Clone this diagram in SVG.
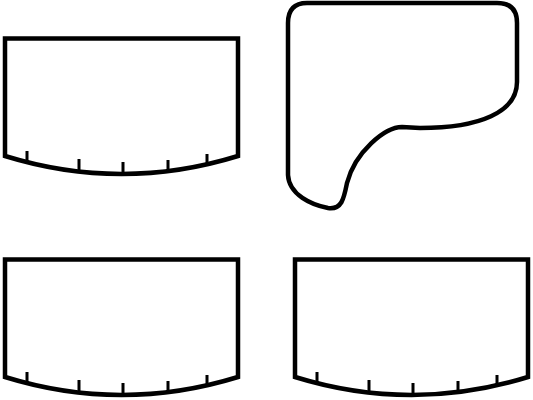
<svg xmlns="http://www.w3.org/2000/svg" xmlns:xlink="http://www.w3.org/1999/xlink" width="533" height="400" viewBox="0 0 533 400">
<style>
.s{fill:#fff;stroke:#000;stroke-width:4.5;stroke-linejoin:miter}
.c{fill:#fff;stroke:#000;stroke-width:4.5;stroke-linejoin:round}
.t{fill:none;stroke:#000;stroke-width:3}
</style>
<defs>
<g id="disp">
<path class="s" d="M5 38.5 H238 V156 Q121.5 192 5 156 Z"/>
<path class="t" d="M27 151 V162 M79 159 V172 M123 162 V174 M168 160 V171 M207 154 V164"/>
</g>
</defs>
<rect width="533" height="400" fill="#fff"/>
<g id="display1"><use xlink:href="#disp"/></g>
<g id="card"><path class="c" d="M307 3 H497 Q517 3 517 23 V82 C517 112 480 128 420 128 L402 127 C385 127 355 152 347 183 C344 198 342 210 328 208 C312 205 289 195 288 175 V23 Q288 3 307 3 Z"/></g>
<g id="display2"><use xlink:href="#disp" transform="translate(0,221)"/></g>
<g id="display3"><use xlink:href="#disp" transform="translate(290,221)"/></g>
<g id="connectors"/>
</svg>
